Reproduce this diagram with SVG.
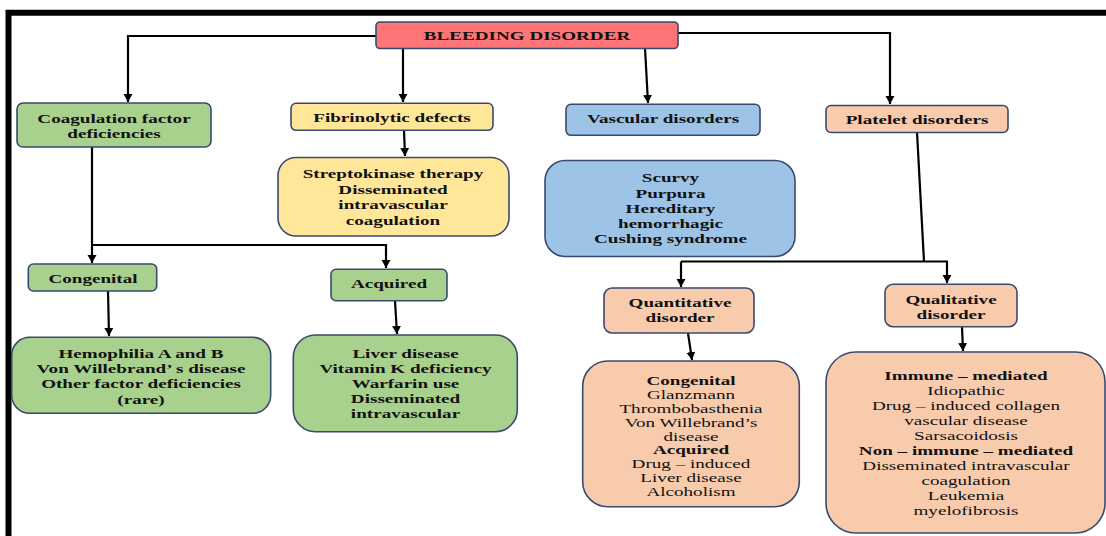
<svg xmlns="http://www.w3.org/2000/svg" width="1106" height="536" viewBox="0 0 1106 536">
<style>
.bx{stroke:#3A4A6E;stroke-width:1.6}
.red{fill:#FF7476}
.grn{fill:#A9D18E}
.yel{fill:#FFE699}
.blu{fill:#9DC3E6}
.org{fill:#F8CBAD}
.t{font-family:"Liberation Serif","Times New Roman",serif;font-size:13px;font-weight:bold;fill:#111;text-anchor:middle}
.r{font-weight:normal}
.cn{fill:none;stroke:#000;stroke-width:2.2;marker-end:url(#ah)}
.ln{fill:none;stroke:#000;stroke-width:2.2}
</style>
<defs>
<marker id="ah" markerUnits="userSpaceOnUse" markerWidth="10" markerHeight="10" refX="8" refY="4.5" orient="auto">
<path d="M0,0 L8,4.5 L0,9 Z" fill="#000"/>
</marker>
</defs>
<rect width="1106" height="536" fill="#fff"/>
<path d="M8.5,536 V12.8 H1106" fill="none" stroke="#000" stroke-width="6"/>
<g id="connectors">
<path class="cn" d="M376,36 H128 V102"/>
<path class="cn" d="M403,48 V102"/>
<path class="cn" d="M645,48 L648,103"/>
<path class="cn" d="M678,33 H890 V104"/>
<path class="cn" d="M404,130 L405,156"/>
<path class="cn" d="M92,147 V263"/>
<path class="cn" d="M92,245 H386 V268"/>
<path class="cn" d="M108,291 L109,336"/>
<path class="cn" d="M395,301 L397,334"/>
<path class="ln" d="M917,132 L924,261.5"/>
<path class="cn" d="M681,261.5 H947 V283"/>
<path class="cn" d="M681,261.5 V287"/>
<path class="cn" d="M688,333 L692,360"/>
<path class="cn" d="M962,327 L963,351"/>
</g>
<g id="bleeding-disorder">
<rect class="bx red" x="376" y="22" width="302" height="26.5" rx="4"/>
<text class="t" transform="translate(527 0) scale(1.47 1)"><tspan x="0" y="40.5">BLEEDING DISORDER</tspan></text>
</g>
<g id="coagulation">
<rect class="bx grn" x="17" y="103" width="194" height="44" rx="6"/>
<text class="t" transform="translate(114 0) scale(1.47 1)"><tspan x="0" y="122.8">Coagulation factor</tspan><tspan x="0" y="137.8">deficiencies</tspan></text>
</g>
<g id="fibrinolytic">
<rect class="bx yel" x="291" y="103.3" width="202" height="27" rx="5"/>
<text class="t" transform="translate(392 0) scale(1.47 1)"><tspan x="0" y="121.8">Fibrinolytic defects</tspan></text>
</g>
<g id="vascular">
<rect class="bx blu" x="566" y="104.3" width="194" height="31" rx="5"/>
<text class="t" transform="translate(663 0) scale(1.47 1)"><tspan x="0" y="123.2">Vascular disorders</tspan></text>
</g>
<g id="platelet">
<rect class="bx org" x="826" y="105.5" width="182" height="27" rx="5"/>
<text class="t" transform="translate(917 0) scale(1.47 1)"><tspan x="0" y="124.5">Platelet disorders</tspan></text>
</g>
<g id="fibrinolytic-list">
<rect class="bx yel" x="278" y="157.5" width="231" height="78.5" rx="18"/>
<text class="t" transform="translate(393 0) scale(1.47 1)"><tspan x="0" y="178.5">Streptokinase therapy</tspan><tspan x="0" y="193.8">Disseminated</tspan><tspan x="0" y="209.5">intravascular</tspan><tspan x="0" y="225.2">coagulation</tspan></text>
</g>
<g id="vascular-list">
<rect class="bx blu" x="545" y="160.5" width="250" height="96" rx="20"/>
<text class="t" transform="translate(670.5 0) scale(1.47 1)"><tspan x="0" y="182.2">Scurvy</tspan><tspan x="0" y="197.8">Purpura</tspan><tspan x="0" y="212.8">Hereditary</tspan><tspan x="0" y="227.8">hemorrhagic</tspan><tspan x="0" y="243.2">Cushing syndrome</tspan></text>
</g>
<g id="congenital">
<rect class="bx grn" x="28.3" y="264" width="128.4" height="27" rx="5"/>
<text class="t" transform="translate(93 0) scale(1.47 1)"><tspan x="0" y="282.8">Congenital</tspan></text>
</g>
<g id="acquired">
<rect class="bx grn" x="331" y="269.3" width="116" height="31.4" rx="5"/>
<text class="t" transform="translate(389 0) scale(1.47 1)"><tspan x="0" y="288.5">Acquired</tspan></text>
</g>
<g id="congenital-list">
<rect class="bx grn" x="11.7" y="337.3" width="259" height="76" rx="18"/>
<text class="t" transform="translate(141 0) scale(1.47 1)"><tspan x="0" y="358.5">Hemophilia A and B</tspan><tspan x="0" y="373.5">Von Willebrand’ s disease</tspan><tspan x="0" y="388.5">Other factor deficiencies</tspan><tspan x="0" y="403.8">(rare)</tspan></text>
</g>
<g id="acquired-list">
<rect class="bx grn" x="293.3" y="335" width="224" height="96.7" rx="22"/>
<text class="t" transform="translate(405.5 0) scale(1.47 1)"><tspan x="0" y="357.8">Liver disease</tspan><tspan x="0" y="372.8">Vitamin K deficiency</tspan><tspan x="0" y="387.8">Warfarin use</tspan><tspan x="0" y="402.8">Disseminated</tspan><tspan x="0" y="418.5">intravascular</tspan></text>
</g>
<g id="quantitative">
<rect class="bx org" x="604" y="288" width="150" height="45" rx="8"/>
<text class="t" transform="translate(680 0) scale(1.47 1)"><tspan x="0" y="307.2">Quantitative</tspan><tspan x="0" y="322.2">disorder</tspan></text>
</g>
<g id="qualitative">
<rect class="bx org" x="885" y="284.3" width="132" height="42.4" rx="8"/>
<text class="t" transform="translate(951 0) scale(1.47 1)"><tspan x="0" y="303.8">Qualitative</tspan><tspan x="0" y="318.8">disorder</tspan></text>
</g>
<g id="quantitative-list">
<rect class="bx org" x="582.7" y="361" width="216.6" height="145.7" rx="25"/>
<text class="t" transform="translate(691 0) scale(1.47 1)"><tspan x="0" y="384.8">Congenital</tspan><tspan class="r" x="0" y="398.8">Glanzmann</tspan><tspan class="r" x="0" y="412.8">Thrombobasthenia</tspan><tspan class="r" x="0" y="427">Von Willebrand’s</tspan><tspan class="r" x="0" y="440.6">disease</tspan><tspan x="0" y="454.5">Acquired</tspan><tspan class="r" x="0" y="468.3">Drug – induced</tspan><tspan class="r" x="0" y="482.2">Liver disease</tspan><tspan class="r" x="0" y="496.5">Alcoholism</tspan></text>
</g>
<g id="qualitative-list">
<rect class="bx org" x="826" y="352" width="279" height="181" rx="30"/>
<text class="t" transform="translate(966 0) scale(1.47 1)"><tspan x="0" y="379.8">Immune – mediated</tspan><tspan class="r" x="0" y="394.8">Idiopathic</tspan><tspan class="r" x="0" y="409.8">Drug – induced collagen</tspan><tspan class="r" x="0" y="424.8">vascular disease</tspan><tspan class="r" x="0" y="439.8">Sarsacoidosis</tspan><tspan x="0" y="454.8">Non – immune – mediated</tspan><tspan class="r" x="0" y="469.8">Disseminated intravascular</tspan><tspan class="r" x="0" y="484.8">coagulation</tspan><tspan class="r" x="0" y="499.8">Leukemia</tspan><tspan class="r" x="0" y="514.8">myelofibrosis</tspan></text>
</g>
</svg>
